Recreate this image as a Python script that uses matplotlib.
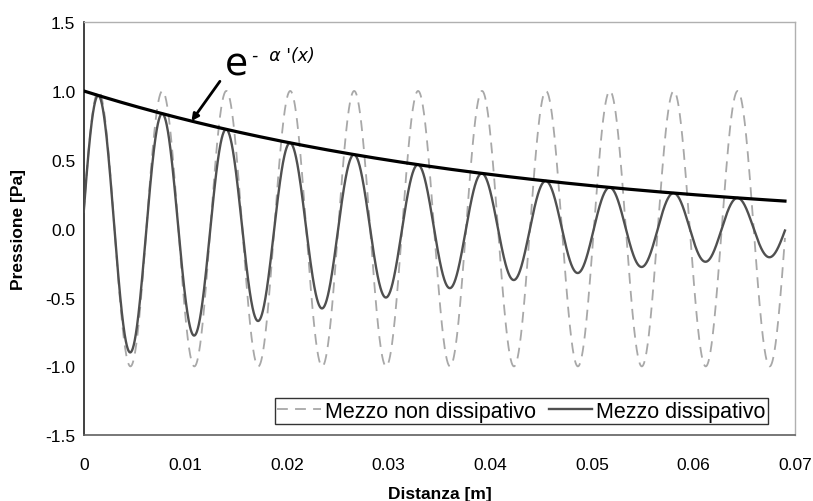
import numpy as np
import matplotlib
matplotlib.use("Agg")
import matplotlib.pyplot as plt

plt.rcParams["font.family"] = ["Liberation Sans", "DejaVu Sans"]

# values
X_END       = 0.069     # last plotted distance [m]
WAVELENGTH  = 0.00629   # distance between successive peaks [m]
FIRST_PEAK  = 0.00145   # position of the first peak [m]
ALPHA       = 23.3      # attenuation coefficient [1/m]
AMPLITUDE   = 1.0       # pressure amplitude [Pa]

X_TICKS     = [0, 0.01, 0.02, 0.03, 0.04, 0.05, 0.06, 0.07]
X_LABELS    = ["0", "0.01", "0.02", "0.03", "0.04", "0.05", "0.06", "0.07"]
Y_TICKS     = [-1.5, -1.0, -0.5, 0.0, 0.5, 1.0, 1.5]
Y_LABELS    = ["-1.5", "-1.0", "-0.5", "0.0", "0.5", "1.0", "1.5"]
SERIES      = ["Mezzo non dissipativo", "Mezzo dissipativo"]
ARROW_X     = 0.0106    # where the arrow touches the envelope


def envelope(x):
    return AMPLITUDE * np.exp(-ALPHA * x)


def wave(x):
    return AMPLITUDE * np.cos(2 * np.pi * (x - FIRST_PEAK) / WAVELENGTH)


x = np.linspace(0, X_END, 3000)

fig = plt.figure(figsize=(8.13, 5.02), dpi=100)
ax = fig.add_axes([0.103, 0.131, 0.875, 0.823])

ax.plot(x, wave(x), color="#a8a8a8", linewidth=1.3, linestyle=(0, (6, 4)),
        label=SERIES[0], zorder=2)
ax.plot(x, envelope(x) * wave(x), color="#505050", linewidth=1.7,
        label=SERIES[1], zorder=3)
ax.plot(x, envelope(x), color="black", linewidth=2.3, zorder=4)

ax.set_xlim(0, 0.07)
ax.set_ylim(-1.5, 1.5)
ax.set_xticks(X_TICKS)
ax.set_xticklabels(X_LABELS)
ax.set_yticks(Y_TICKS)
ax.set_yticklabels(Y_LABELS)
ax.tick_params(length=0, labelsize=12.5)
ax.tick_params(axis="x", pad=16)
ax.tick_params(axis="y", pad=6)

ax.set_xlabel("Distanza [m]", fontsize=12.5, fontweight="bold", labelpad=10)
ax.set_ylabel("Pressione [Pa]", fontsize=12.5, fontweight="bold", labelpad=14)

for side in ["top", "right"]:
    ax.spines[side].set_color("#b0b0b0")
    ax.spines[side].set_linewidth(1.0)
ax.spines["left"].set_color("#202020")
ax.spines["bottom"].set_color("#606060")
ax.spines["left"].set_linewidth(1.2)
ax.spines["bottom"].set_linewidth(1.2)

leg = ax.legend(loc="lower right", bbox_to_anchor=(0.962, 0.026), ncol=2,
                fontsize=15.5, frameon=True, fancybox=False, handlelength=2.0,
                handletextpad=0.2, columnspacing=0.6, borderpad=0.12,
                borderaxespad=0)
leg.get_frame().set_edgecolor("black")
leg.get_frame().set_linewidth(1.0)

# annotation e^{-alpha'(x)} with arrow onto the envelope
ax.annotate("", xy=(ARROW_X, envelope(ARROW_X)), xytext=(0.0134, 1.07),
            arrowprops=dict(arrowstyle="-|>", color="black", lw=2.0,
                            mutation_scale=10, shrinkA=0, shrinkB=0))
ax.text(0.0139, 1.12, "e", fontsize=27, family="DejaVu Sans",
        ha="left", va="baseline")
ax.text(0.0166, 1.225, "-  \u03b1 '(x)", fontsize=12.5, style="italic",
        family="DejaVu Sans", ha="left", va="baseline")

fig.savefig("out.png", dpi=100)
